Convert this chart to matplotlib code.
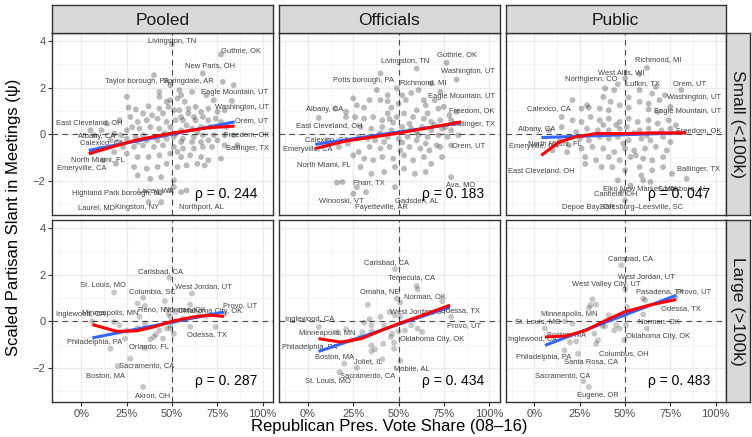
import matplotlib.pyplot as plt
import numpy as np

plt.rcParams["font.family"] = ["Liberation Sans", "DejaVu Sans"]

# ---------------------------------------------------------------------
# Data
# ---------------------------------------------------------------------

col_names = ["Pooled", "Officials", "Public"]
row_names = ["Small (<100k)", "Large (>100k)"]
x_ticks = [0, 0.25, 0.5, 0.75, 1.0]
x_tick_labels = ["0%", "25%", "50%", "75%", "100%"]
y_ticks = [-2, 0, 2, 4]

rho = [["ρ = 0. 244", "ρ = 0. 183", "ρ = 0. 047"],
       ["ρ = 0. 287", "ρ = 0. 434", "ρ = 0. 483"]]

pooled_small_pts = [
    (0.40, 2.53), (0.67, 2.60), (0.78, 2.24), (0.84, 2.10), (0.83, 1.43), (0.77, 3.41),
    (0.49, 1.46), (0.53, 1.53), (0.57, 1.39), (0.55, 1.67), (0.47, 1.39), (0.25, 1.60),
    (0.26, 1.14), (0.30, 1.06), (0.37, 1.20), (0.43, 1.10), (0.45, 0.89), (0.51, 1.03),
    (0.59, 1.10), (0.63, 1.17), (0.66, 0.96), (0.70, 1.10), (0.75, 0.96), (0.79, 1.03),
    (0.67, 0.74), (0.63, 0.60), (0.56, 0.60), (0.52, 0.60), (0.47, 0.53), (0.42, 0.67),
    (0.36, 0.60), (0.31, 0.53), (0.28, 0.31), (0.32, 0.24), (0.38, 0.31), (0.43, 0.24),
    (0.49, 0.31), (0.55, 0.17), (0.61, 0.24), (0.66, 0.31), (0.71, 0.31), (0.77, 0.53),
    (0.80, 0.31), (0.84, -0.04), (0.79, -0.04), (0.73, -0.04), (0.67, -0.04), (0.62, -0.11),
    (0.56, -0.19), (0.51, -0.11), (0.45, -0.04), (0.40, -0.11), (0.34, -0.04), (0.30, -0.11),
    (0.25, -0.19), (0.20, -0.33), (0.23, -0.54), (0.29, -0.54), (0.34, -0.47), (0.40, -0.54),
    (0.45, -0.47), (0.51, -0.54), (0.56, -0.61), (0.62, -0.61), (0.67, -0.54), (0.72, -0.54),
    (0.79, -0.47), (0.86, -0.47), (0.18, -0.76), (0.25, -0.83), (0.31, -0.97), (0.37, -0.97),
    (0.43, -0.90), (0.49, -0.83), (0.55, -0.97), (0.60, -0.90), (0.66, -0.97), (0.70, -1.11),
    (0.77, -1.04), (0.12, -1.11), (0.19, -1.26), (0.29, -1.40), (0.36, -1.47), (0.42, -1.40),
    (0.47, -1.26), (0.53, -1.40), (0.58, -1.33), (0.64, -1.26), (0.68, -1.33), (0.31, -1.76),
    (0.38, -1.90), (0.44, -1.83), (0.51, -1.97), (0.58, -2.40), (0.55, -2.47), (0.49, -2.40),
    (0.43, -2.47), (0.37, -2.90), (0.44, -2.90), (0.51, -2.26), (0.05, 0.17), (0.07, -0.04),
    (0.11, 0.17), (0.16, -0.26), (0.10, -0.61), (0.06, -0.76), (0.18, 0.03), (0.14, 0.46),
    (0.21, 0.60), (0.27, 0.74), (0.43, 1.60), (0.43, 1.81), (0.49, 2.10), (0.54, 1.89),
    (0.61, 1.81), (0.69, 1.67), (0.73, 1.46), (0.74, 0.67), (0.70, 0.60), (0.34, 0.89),
    (0.39, 0.81), (0.59, 0.89), (0.62, 0.74), (0.55, 0.74), (0.54, 1.03), (0.48, 1.17),
    (0.42, -0.26), (0.55, -0.33), (0.61, -0.33), (0.66, -0.33), (0.70, -0.26), (0.75, -0.26),
    (0.36, -0.26), (0.31, -0.33), (0.25, 0.17), (0.22, -0.04), (0.50, 3.85), (0.52, 0.03),
    (0.47, -0.19), (0.58, 0.38), (0.64, 0.10), (0.53, -0.75), (0.46, 0.05),
]
officials_small_pts = [
    (0.765, 3.06), (0.60, 2.81), (0.82, 2.34), (0.40, 2.60), (0.38, 1.89), (0.49, 1.96),
    (0.57, 1.77), (0.61, 1.89), (0.73, 1.81), (0.68, 2.17), (0.25, 1.53), (0.31, 1.14),
    (0.27, 1.24), (0.40, 1.46), (0.44, 1.41), (0.46, 1.14), (0.50, 1.31), (0.54, 1.46),
    (0.60, 1.03), (0.65, 1.24), (0.70, 1.46), (0.72, 1.10), (0.78, 0.81), (0.82, 0.96),
    (0.66, 0.89), (0.64, 0.67), (0.68, 0.53), (0.73, 0.60), (0.79, 0.60), (0.58, 0.74),
    (0.53, 0.89), (0.49, 0.74), (0.44, 0.89), (0.41, 0.60), (0.36, 0.74), (0.31, 0.67),
    (0.26, 0.74), (0.21, 0.74), (0.06, 0.70), (0.29, 0.31), (0.35, 0.24), (0.41, 0.31),
    (0.46, 0.17), (0.52, 0.31), (0.57, 0.24), (0.63, 0.31), (0.68, 0.17), (0.74, 0.24),
    (0.79, 0.17), (0.83, -0.04), (0.77, -0.11), (0.72, -0.04), (0.66, -0.11), (0.61, -0.04),
    (0.55, -0.11), (0.50, -0.19), (0.44, -0.11), (0.39, -0.04), (0.33, -0.19), (0.28, -0.11),
    (0.22, -0.40), (0.17, -0.54), (0.28, -0.76), (0.34, -0.54), (0.40, -0.61), (0.45, -0.54),
    (0.51, -0.69), (0.56, -0.54), (0.62, -0.61), (0.67, -0.69), (0.73, -0.54), (0.79, -0.47),
    (0.25, -0.90), (0.36, -1.11), (0.41, -0.97), (0.47, -1.04), (0.53, -0.90), (0.58, -1.11),
    (0.64, -0.97), (0.68, -1.26), (0.74, -0.97), (0.29, -1.40), (0.35, -1.69), (0.42, -1.61),
    (0.48, -1.40), (0.53, -1.47), (0.59, -1.69), (0.65, -1.61), (0.19, -2.04), (0.16, -2.07),
    (0.27, -2.26), (0.25, -2.54), (0.48, -2.26), (0.79, -1.83), (0.32, -2.47), (0.15, 1.10),
    (0.21, 0.96), (0.34, 1.46), (0.44, 1.67), (0.52, 1.67), (0.64, 1.46), (0.75, 1.17),
    (0.76, 0.31), (0.71, -0.47), (0.42, -0.33), (0.37, -0.26), (0.60, -0.26), (0.65, -0.40),
    (0.31, -1.04), (0.11, -0.26), (0.56, 0.45), (0.47, 0.50), (0.60, 0.10), (0.40, 0.05),
    (0.70, 0.40), (0.52, -0.35), (0.45, 0.65),
]
public_small_pts = [
    (0.62, 2.84), (0.58, 2.57), (0.50, 2.39), (0.44, 1.89), (0.39, 1.96), (0.46, 2.14),
    (0.65, 1.74), (0.72, 1.67), (0.81, 1.89), (0.21, 1.46), (0.38, 1.60), (0.52, 1.57),
    (0.58, 1.39), (0.63, 1.31), (0.69, 1.46), (0.26, 1.10), (0.30, 1.14), (0.36, 1.10),
    (0.41, 1.03), (0.47, 1.24), (0.52, 1.14), (0.63, 1.06), (0.68, 0.96), (0.15, 0.74),
    (0.21, 0.60), (0.26, 0.53), (0.31, 0.74), (0.36, 0.60), (0.41, 0.67), (0.47, 0.53),
    (0.52, 0.67), (0.57, 0.53), (0.63, 0.60), (0.68, 0.46), (0.74, 0.60), (0.78, 0.39),
    (0.29, 0.24), (0.35, 0.17), (0.41, 0.17), (0.47, 0.24), (0.51, 0.31), (0.58, 0.17),
    (0.63, 0.24), (0.70, 0.17), (0.75, 0.24), (0.25, -0.19), (0.30, -0.26), (0.36, -0.11),
    (0.41, -0.19), (0.46, -0.11), (0.52, -0.26), (0.59, -0.19), (0.64, -0.26), (0.71, -0.11),
    (0.75, -0.33), (0.19, -0.47), (0.26, -0.61), (0.32, -0.54), (0.38, -0.61), (0.44, -0.76),
    (0.50, -0.61), (0.55, -0.69), (0.61, -0.61), (0.67, -0.54), (0.73, -0.69), (0.10, -0.69),
    (0.18, -0.76), (0.28, -0.97), (0.34, -1.11), (0.41, -0.97), (0.47, -1.11), (0.53, -0.97),
    (0.60, -1.04), (0.65, -1.11), (0.71, -0.97), (0.28, -1.26), (0.37, -1.40), (0.43, -1.40),
    (0.50, -1.54), (0.58, -1.40), (0.65, -1.54), (0.71, -1.40), (0.59, -1.76), (0.76, -1.69),
    (0.64, -2.04), (0.46, -1.97), (0.53, -2.19), (0.60, -1.97), (0.84, -1.90), (0.48, -2.47),
    (0.50, -2.83), (0.14, -0.26), (0.15, 0.31), (0.08, 0.17), (0.23, 0.10), (0.29, 1.24),
    (0.42, 1.39), (0.58, 1.89), (0.67, 2.03), (0.75, 1.17), (0.55, 0.05), (0.45, 0.40),
    (0.62, -0.05), (0.38, 0.40), (0.49, -0.40), (0.56, -0.90),
]
pooled_large_pts = [
    (0.485, 1.86), (0.18, 1.23), (0.61, 1.19), (0.34, 1.00), (0.31, 0.76), (0.35, 0.66),
    (0.32, 0.19), (0.46, 0.86), (0.48, 0.33), (0.49, 0.19), (0.52, 0.40), (0.60, 0.71),
    (0.62, 0.47), (0.65, 0.26), (0.69, 0.23), (0.74, -0.24), (0.60, -0.24), (0.56, 0.11),
    (0.51, 0.00), (0.49, -0.31), (0.51, -0.53), (0.47, -0.31), (0.43, -0.39), (0.41, -0.56),
    (0.38, -0.77), (0.35, -1.14), (0.40, -0.67), (0.31, -0.29), (0.35, -0.10), (0.24, -0.74),
    (0.21, -0.17), (0.18, -0.03), (0.16, -1.17), (0.20, -1.91), (0.27, -1.60), (0.34, -2.81),
    (0.06, 0.00), (0.25, -0.39), (0.79, 0.31), (0.45, -0.74), (0.49, -0.17),
]
officials_large_pts = [
    (0.48, 2.23), (0.60, 1.51), (0.605, 1.37), (0.49, 0.97), (0.51, 0.80), (0.33, 0.71),
    (0.74, 0.86), (0.79, 0.19), (0.45, 0.40), (0.48, 0.26), (0.51, 0.19), (0.40, 0.19),
    (0.34, 0.09), (0.31, -0.06), (0.35, -0.17), (0.42, -0.17), (0.06, -0.24), (0.21, -0.34),
    (0.165, -0.46), (0.30, -0.46), (0.35, -0.43), (0.465, -0.53), (0.50, -0.43), (0.535, -0.39),
    (0.57, -0.17), (0.605, -0.31), (0.63, -0.46), (0.457, -0.67), (0.475, -0.91), (0.415, -0.96),
    (0.35, -1.03), (0.35, -1.29), (0.37, -1.20), (0.475, -1.17), (0.51, -1.70), (0.41, -1.63),
    (0.27, -1.99), (0.20, -1.81), (0.175, -2.17), (0.24, -0.81), (0.29, -0.67),
]
public_large_pts = [
    (0.48, 2.40), (0.50, 1.37), (0.60, 0.97), (0.61, 0.90), (0.32, 0.94), (0.31, 0.69),
    (0.34, 0.71), (0.30, 0.57), (0.51, 0.61), (0.41, 0.26), (0.39, -0.21), (0.45, -0.17),
    (0.47, -0.31), (0.44, -0.39), (0.50, 0.26), (0.505, -0.17), (0.495, -0.81), (0.60, 0.29),
    (0.62, -0.31), (0.78, 1.04), (0.21, -0.10), (0.17, 0.00), (0.057, -0.31), (0.195, -0.89),
    (0.23, -0.86), (0.35, -0.81), (0.34, -0.96), (0.165, -1.24), (0.24, -1.39), (0.27, -2.56),
    (0.30, -2.81), (0.375, -0.20), (0.33, -0.53),
]

pooled_small_labels = [
    ("Livingston, TN", 0.50, 3.96), ("Guthrie, OK", 0.88, 3.57), ("New Paris, OH", 0.71, 2.93),
    ("Taylor borough, PA", 0.305, 2.24), ("Springdale, AR", 0.59, 2.24),
    ("Eagle Mountain, UT", 0.847, 1.79), ("Washington, UT", 0.884, 1.13), ("Orem, UT", 0.94, 0.60),
    ("Freedom, OK", 0.91, -0.01), ("Ballinger, TX", 0.915, -0.61),
    ("East Cleveland, OH", 0.044, 0.51), ("Albany, CA", 0.086, -0.09), ("Calexico, CA", 0.115, -0.37),
    ("North Miami, FL", 0.088, -1.09), ("Emeryville, CA", 0.003, -1.47),
    ("Highland Park borough, NJ", 0.20, -2.54), ("Lacey, WA", 0.41, -2.43),
    ("Laurel, MD", 0.084, -3.14), ("Kingston, NY", 0.307, -3.14), ("Northport, AL", 0.66, -3.11),
]
officials_small_labels = [
    ("Guthrie, OK", 0.825, 3.39), ("Livingston, TN", 0.537, 3.10), ("Washington, UT", 0.884, 2.67),
    ("Potts borough, PA", 0.306, 2.29), ("Richmond, MI", 0.638, 2.21),
    ("Eagle Mountain, UT", 0.849, 1.61), ("Albany, CA", 0.09, 1.06), ("Freedom, OK", 0.906, 1.01),
    ("East Cleveland, OH", 0.119, 0.37), ("Ballinger, TX", 0.911, 0.40), ("Calexico, CA", 0.106, -0.23),
    ("Emeryville, CA", -0.003, -0.66), ("Orem, UT", 0.885, -0.49), ("North Miami, FL", 0.086, -1.30),
    ("Pharr, TX", 0.335, -2.07), ("Ava, MO", 0.843, -2.14), ("Winooski, VT", 0.186, -2.83),
    ("Gadsden, AL", 0.60, -2.83), ("Fayetteville, AR", 0.404, -3.11),
]
public_small_labels = [
    ("Richmond, MI", 0.68, 3.20), ("West Allis, WI", 0.48, 2.63), ("Northglenn, CO", 0.311, 2.34),
    ("Lufkin, TX", 0.60, 2.17), ("Orem, UT", 0.858, 2.17), ("Washington, UT", 0.88, 1.57),
    ("Calexico, CA", 0.08, 1.09), ("Eagle Mountain, UT", 0.843, 0.99), ("Albany, CA", 0.012, 0.20),
    ("Freedom, OK", 0.904, 0.14), ("North Miami, FL", 0.11, -0.40), ("Emeryville, CA", -0.005, -0.54),
    ("East Cleveland, OH", 0.04, -1.54), ("Ballinger, TX", 0.907, -1.51),
    ("Elko New Market, MN", 0.58, -2.33), ("Scottsboro, AL", 0.82, -2.33), ("Canfield, OH", 0.45, -2.54),
    ("Depoe Bay, OR", 0.296, -3.14), ("Batesburg\u2013Leesville, SC", 0.59, -3.14),
]
pooled_large_labels = [
    ("Carlsbad, CA", 0.435, 2.14), ("St. Louis, MO", 0.12, 1.57), ("West Jordan, UT", 0.67, 1.50),
    ("Columbia, SC", 0.39, 1.27), ("Reno, NV", 0.40, 0.50), ("Norman, OK", 0.57, 0.50),
    ("Oklahoma City, OK", 0.71, 0.40), ("Provo, UT", 0.876, 0.66), ("Inglewood, CA", -0.003, 0.30),
    ("Minneapolis, MN", 0.16, 0.33), ("Philadelphia, PA", 0.07, -0.89), ("Orlando, FL", 0.37, -1.06),
    ("Odessa, TX", 0.69, -0.57), ("Sacramento, CA", 0.36, -1.91), ("Boston, MA", 0.13, -2.33),
    ("Akron, OH", 0.395, -3.17),
]
officials_large_labels = [
    ("Carlsbad, CA", 0.433, 2.51), ("Temecula, CA", 0.573, 1.87), ("Omaha, NE", 0.396, 1.27),
    ("Norman, OK", 0.648, 1.07), ("West Jordan, UT", 0.61, 0.40), ("Odessa, TX", 0.84, 0.47),
    ("Inglewood, CA", 0.01, 0.07), ("Provo, UT", 0.86, -0.17), ("Minneapolis, MN", 0.105, -0.53),
    ("Oklahoma City, OK", 0.684, -0.79), ("Philadelphia, PA", 0.01, -1.13), ("Boston, MA", 0.146, -1.50),
    ("Joliet, IL", 0.33, -1.70), ("Mobile, AL", 0.575, -2.00), ("Sacramento, CA", 0.33, -2.33),
    ("St. Louis, MO", 0.11, -2.53),
]
public_large_labels = [
    ("Carlsbad, CA", 0.53, 2.69), ("West Jordan, UT", 0.615, 1.93), ("West Valley City, UT", 0.396, 1.57),
    ("Pasadena, TX", 0.69, 1.29), ("Provo, UT", 0.878, 1.29), ("Odessa, TX", 0.81, 0.54),
    ("Minneapolis, MN", 0.19, 0.31), ("St. Louis, MO", 0.018, 0.00), ("Norman, OK", 0.685, -0.03),
    ("Boston, MA", 0.177, -0.57), ("Inglewood, CA", -0.01, -0.77), ("Oklahoma City, OK", 0.68, -0.64),
    ("Philadelphia, PA", 0.05, -1.53), ("Columbus, OH", 0.494, -1.39), ("Santa Rosa, CA", 0.31, -1.71),
    ("Sacramento, CA", 0.158, -2.33), ("Eugene, OR", 0.35, -3.17),
]

# fitted lines: linear (blue) and loess (red)
lm_x = [[(0.04, 0.845), (0.04, 0.845), (0.038, 0.837)],
        [(0.06, 0.786), (0.058, 0.784), (0.058, 0.782)]]
lm_y = [[(-0.69, 0.53), (-0.43, 0.49), (-0.14, 0.07)],
        [(-0.71, 0.40), (-1.29, 0.61), (-1.03, 1.11)]]
loess_pooled_small = ([0.04, 0.30, 0.50, 0.70, 0.845], [-0.83, -0.25, 0.05, 0.28, 0.35])
loess_officials_small = ([0.04, 0.20, 0.50, 0.845], [-0.61, -0.30, 0.05, 0.53])
loess_public_small = ([0.038, 0.136, 0.228, 0.339, 0.50, 0.65, 0.837],
                      [-0.90, -0.33, -0.11, 0.03, 0.03, 0.06, 0.06])
loess_pooled_large = ([0.06, 0.195, 0.305, 0.40, 0.50, 0.62, 0.71, 0.786],
                      [-0.14, -0.43, -0.41, -0.24, 0.0, 0.19, 0.26, 0.21])
loess_officials_large = ([0.058, 0.18, 0.295, 0.405, 0.50, 0.645, 0.784],
                         [-0.74, -0.89, -0.74, -0.39, -0.10, 0.29, 0.69])
loess_public_large = ([0.058, 0.173, 0.283, 0.394, 0.496, 0.634, 0.782],
                      [-0.67, -0.63, -0.39, 0.04, 0.40, 0.69, 0.93])

points = [[pooled_small_pts, officials_small_pts, public_small_pts],
          [pooled_large_pts, officials_large_pts, public_large_pts]]
labels = [[pooled_small_labels, officials_small_labels, public_small_labels],
          [pooled_large_labels, officials_large_labels, public_large_labels]]
loess = [[loess_pooled_small, loess_officials_small, loess_public_small],
         [loess_pooled_large, loess_officials_large, loess_public_large]]

# ---------------------------------------------------------------------
# Layout (pixels)
# ---------------------------------------------------------------------

W, H = 752, 437
fig = plt.figure(figsize=(W / 100, H / 100), dpi=100)


def rect(x0, y0, w, h):
    return [x0 / W, 1 - (y0 + h) / H, w / W, h / H]


lefts = [52.5, 279, 505.5]
tops = [33, 220]
pw, ph = 220.5, 182
border = "#333333"

for r in range(2):
    for c in range(3):
        ax = fig.add_axes(rect(lefts[c], tops[r], pw, ph))
        ax.set_xlim(-0.16, 1.057)
        ax.set_ylim(-3.45, 4.33)
        ax.set_xticks(x_ticks)
        ax.set_xticklabels(x_tick_labels)
        ax.set_yticks(y_ticks)
        ax.set_xticks([-0.125, 0.125, 0.375, 0.625, 0.875], minor=True)
        ax.set_yticks([-3, -1, 1, 3], minor=True)
        ax.grid(True, which="major", color="#EBEBEB", lw=1.0)
        ax.grid(True, which="minor", color="#F2F2F2", lw=0.5)
        ax.set_axisbelow(True)
        ax.tick_params(which="minor", length=0)
        ax.tick_params(which="major", length=3, width=0.8, color=border,
                       labelcolor="#4D4D4D", labelsize=8, pad=2)
        if r == 0:
            ax.tick_params(bottom=False, labelbottom=False)
        if c > 0:
            ax.tick_params(left=False, labelleft=False)
        for s in ax.spines.values():
            s.set_color(border)
            s.set_linewidth(1.0)

        ax.axvline(0.5, color="#4D4D4D", lw=0.8, ls=(0, (5, 4)), zorder=1)
        ax.axhline(0, color="#4D4D4D", lw=0.8, ls=(0, (5, 4)), zorder=1)

        pts = np.array(points[r][c])
        ax.scatter(pts[:, 0], pts[:, 1], s=18, color="black",
                   alpha=0.27 if r == 0 else 0.22, edgecolors="none", zorder=2)

        for name, lx, ly in labels[r][c]:
            ax.text(lx, ly, name, fontsize=5.4, color="#404040", ha="center",
                    va="center", clip_on=True, zorder=3)

        ax.plot(lm_x[r][c], lm_y[r][c], color="#3366FF", lw=2.2, zorder=4,
                solid_capstyle="butt")
        lx, ly = loess[r][c]
        ax.plot(lx, ly, color="red", lw=2.2, zorder=4, solid_capstyle="butt")

        ax.text(0.80, -2.57, rho[r][c], fontsize=10, ha="center", va="center",
                color="black", zorder=5)

# strips
for c in range(3):
    sax = fig.add_axes(rect(lefts[c], 5, pw, 28))
    sax.set_facecolor("#D9D9D9")
    sax.set_xticks([])
    sax.set_yticks([])
    for s in sax.spines.values():
        s.set_color(border)
        s.set_linewidth(1.0)
    sax.text(0.5, 0.45, col_names[c], ha="center", va="center", fontsize=12.5,
             color="#1A1A1A", transform=sax.transAxes)

for r in range(2):
    sax = fig.add_axes(rect(726, tops[r], 24, ph))
    sax.set_facecolor("#D9D9D9")
    sax.set_xticks([])
    sax.set_yticks([])
    for s in sax.spines.values():
        s.set_color(border)
        s.set_linewidth(1.0)
    sax.text(0.5, 0.5, row_names[r], ha="center", va="center", fontsize=12.5,
             color="#1A1A1A", rotation=-90, transform=sax.transAxes)

fig.text(389 / W, 1 - 427 / H, "Republican Pres. Vote Share (08\u201316)",
         ha="center", va="center", fontsize=12)
fig.text(14 / W, 1 - 217 / H, "Scaled Partisan Slant in Meetings (\u03c8)",
         ha="center", va="center", fontsize=12, rotation=90)

fig.savefig("out.png", dpi=100)
